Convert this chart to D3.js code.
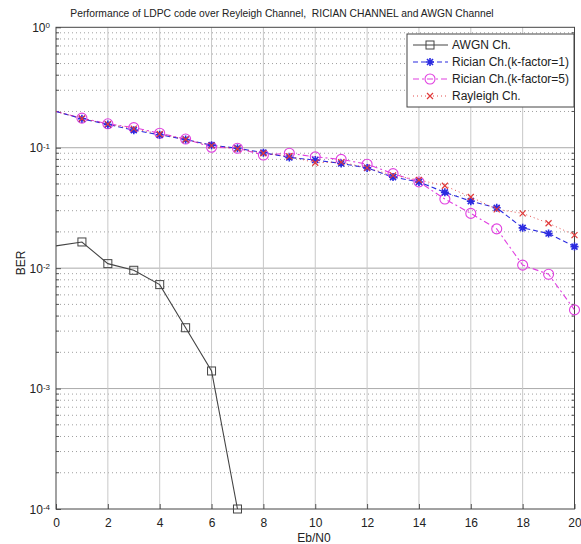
<!DOCTYPE html>
<html><head><meta charset="utf-8">
<script src="https://cdn.jsdelivr.net/npm/d3@7"></script>
<style>body{margin:0;background:#fff}svg{display:block}text{font-family:"Liberation Sans",Arial,sans-serif}</style>
</head><body>
<svg id="c" width="581" height="544"></svg>
<script>
const ebn0 = [0,1,2,3,4,5,6,7,8,9,10,11,12,13,14,15,16,17,18,19,20];
const awgnX = [0,1,2,3,4,5,6,7];
const awgn = [0.0153,0.0165,0.0109,0.0096,0.0073,0.0032,0.0014,0.0001];
const ricianK1 = [0.200,0.174,0.156,0.140,0.128,0.117,0.105,0.099,0.091,0.083,0.079,0.074,0.068,0.057,0.052,0.0426,0.036,0.0317,0.0216,0.0194,0.0151];
const ricianK5 = [0.200,0.176,0.158,0.147,0.132,0.118,0.101,0.099,0.087,0.090,0.084,0.080,0.073,0.061,0.052,0.0375,0.0285,0.0212,0.0106,0.0089,0.0045];
const rayleigh = [0.200,0.175,0.157,0.144,0.130,0.117,0.104,0.098,0.090,0.085,0.075,0.076,0.068,0.059,0.054,0.0483,0.039,0.0308,0.0285,0.0236,0.0188];
const xTicks = [0,2,4,6,8,10,12,14,16,18,20];
const yDecades = [-4,-3,-2,-1,0];
const seriesNames = ["AWGN Ch.","Rician Ch.(k-factor=1)","Rician Ch.(k-factor=5)","Rayleigh Ch."];
const titleText = "Performance of LDPC code over Reyleigh Channel,  RICIAN CHANNEL and AWGN Channel";

const svg = d3.select("#c");
const L=56, R=574.5, T=27.3, B=509;
const x = d3.scaleLinear().domain([0,20]).range([L,R]);
const y = d3.scaleLog().domain([1e-4,1]).range([B,T]);

// grid
const g = svg.append("g");
const minor = [];
yDecades.slice(0,-1).forEach(e=>{for(let m=2;m<=9;m++) minor.push(m*Math.pow(10,e));});
g.selectAll(".mn").data(minor).join("line").attr("x1",L).attr("x2",R)
 .attr("y1",d=>y(d)).attr("y2",d=>y(d)).attr("stroke","#888").attr("stroke-width",0.8).attr("stroke-dasharray","1,3");
g.selectAll(".dc").data(yDecades.slice(1,-1)).join("line").attr("x1",L).attr("x2",R)
 .attr("y1",d=>y(Math.pow(10,d))).attr("y2",d=>y(Math.pow(10,d))).attr("stroke","#aaa").attr("stroke-width",1);
g.selectAll(".vx").data(xTicks.slice(1,-1)).join("line").attr("y1",T).attr("y2",B)
 .attr("x1",d=>x(d)).attr("x2",d=>x(d)).attr("stroke","#c8c8c8").attr("stroke-width",1);

// minor ticks on left/right
svg.append("g").selectAll("line").data(minor).join("line").attr("x1",L).attr("x2",L+3)
 .attr("y1",d=>y(d)).attr("y2",d=>y(d)).attr("stroke","#555");
svg.append("g").selectAll("line").data(minor).join("line").attr("x1",R-3).attr("x2",R)
 .attr("y1",d=>y(d)).attr("y2",d=>y(d)).attr("stroke","#555");

// axes
const xa = svg.append("g").attr("transform",`translate(0,${B})`)
 .call(d3.axisBottom(x).tickValues(xTicks).tickSize(-5).tickPadding(9).tickFormat(d3.format("d")));
xa.select(".domain").remove();
xa.selectAll("line").attr("stroke","#555");
xa.selectAll("text").attr("font-size",12).attr("fill","#222");
const ya = svg.append("g").attr("transform",`translate(${L},0)`)
 .call(d3.axisLeft(y).tickValues(yDecades.map(e=>Math.pow(10,e))).tickSize(-5).tickPadding(7).tickFormat(""));
ya.select(".domain").remove();
ya.selectAll("line").attr("stroke","#555");
ya.selectAll(".tick").each(function(d){
  const t=d3.select(this).append("text").attr("x",-6).attr("dy","0.35em").attr("text-anchor","end").attr("fill","#222").attr("font-size",12);
  t.append("tspan").text("10");
  t.append("tspan").attr("dy","-0.45em").attr("font-size",8).text(Math.round(Math.log10(d)));
});
svg.append("rect").attr("x",L).attr("y",T).attr("width",R-L).attr("height",B-T)
 .attr("fill","none").attr("stroke","#444").attr("stroke-width",1);

// clip
svg.append("clipPath").attr("id","cp").append("rect").attr("x",L).attr("y",T).attr("width",R-L).attr("height",B-T);

const line = d3.line().x(d=>x(d[0])).y(d=>y(d[1]));
const series = [
 {name:seriesNames[0], xs:awgnX, ys:awgn, color:"#444", dash:null, marker:"square"},
 {name:seriesNames[1], xs:ebn0, ys:ricianK1, color:"#2b2be0", dash:"5,3", marker:"star"},
 {name:seriesNames[2], xs:ebn0, ys:ricianK5, color:"#e040e0", dash:"6,3,2,3", marker:"circle"},
 {name:seriesNames[3], xs:ebn0, ys:rayleigh, color:"#e03a3a", dash:"1,3", marker:"x"}
];
function drawMarker(sel, type, color){
  if(type==="square") sel.append("rect").attr("x",-4).attr("y",-4).attr("width",8).attr("height",8).attr("fill","none").attr("stroke",color).attr("stroke-width",1);
  if(type==="circle") sel.append("circle").attr("r",5).attr("fill","none").attr("stroke",color).attr("stroke-width",1.1);
  if(type==="star") sel.append("path").attr("d","M-4,0H4M0,-4V4M-3,-3L3,3M-3,3L3,-3").attr("stroke",color).attr("stroke-width",1.6);
  if(type==="x") sel.append("path").attr("d","M-3,-3L3,3M-3,3L3,-3").attr("stroke",color).attr("stroke-width",1.2);
}
const plot = svg.append("g").attr("clip-path","url(#cp)");
const order=[2,1,3,0];
order.forEach(i=>{
  const s=series[i];
  const pts=s.xs.map((v,k)=>[v,s.ys[k]]);
  plot.append("path").datum(pts).attr("d",line).attr("fill","none").attr("stroke",s.color)
   .attr("stroke-width",s.marker==="x"?0.9:1.1).attr("stroke-dasharray",s.dash);
  svg.append("g").selectAll("g").data(pts.filter(p=>p[0]>0)).join("g")
   .attr("transform",d=>`translate(${x(d[0])},${y(d[1])})`).each(function(){drawMarker(d3.select(this),s.marker,s.color);});
});

// legend
const lg = svg.append("g");
lg.append("rect").attr("x",407).attr("y",34).attr("width",167).attr("height",73).attr("fill","#fff").attr("stroke","#444");
series.forEach((s,i)=>{
  const yy=45+i*17;
  lg.append("line").attr("x1",413).attr("x2",448).attr("y1",yy).attr("y2",yy).attr("stroke",s.color)
   .attr("stroke-width",s.marker==="x"?0.9:1.1).attr("stroke-dasharray",s.dash);
  drawMarker(lg.append("g").attr("transform",`translate(430,${yy})`), s.marker, s.color);
  lg.append("text").attr("x",452).attr("y",yy).attr("dy","0.35em").attr("font-size",12).attr("fill","#222").text(s.name);
});

// titles
svg.append("text").attr("x",282).attr("y",17).attr("text-anchor","middle").attr("font-size",10.3)
 .attr("fill","#222").style("white-space","pre").text(titleText);
svg.append("text").attr("x",314).attr("y",541.5).attr("text-anchor","middle").attr("font-size",12).attr("fill","#222").text("Eb/N0");
svg.append("text").attr("transform","translate(25,263) rotate(-90)").attr("text-anchor","middle").attr("font-size",12).attr("fill","#222").text("BER");
</script>
</body></html>
